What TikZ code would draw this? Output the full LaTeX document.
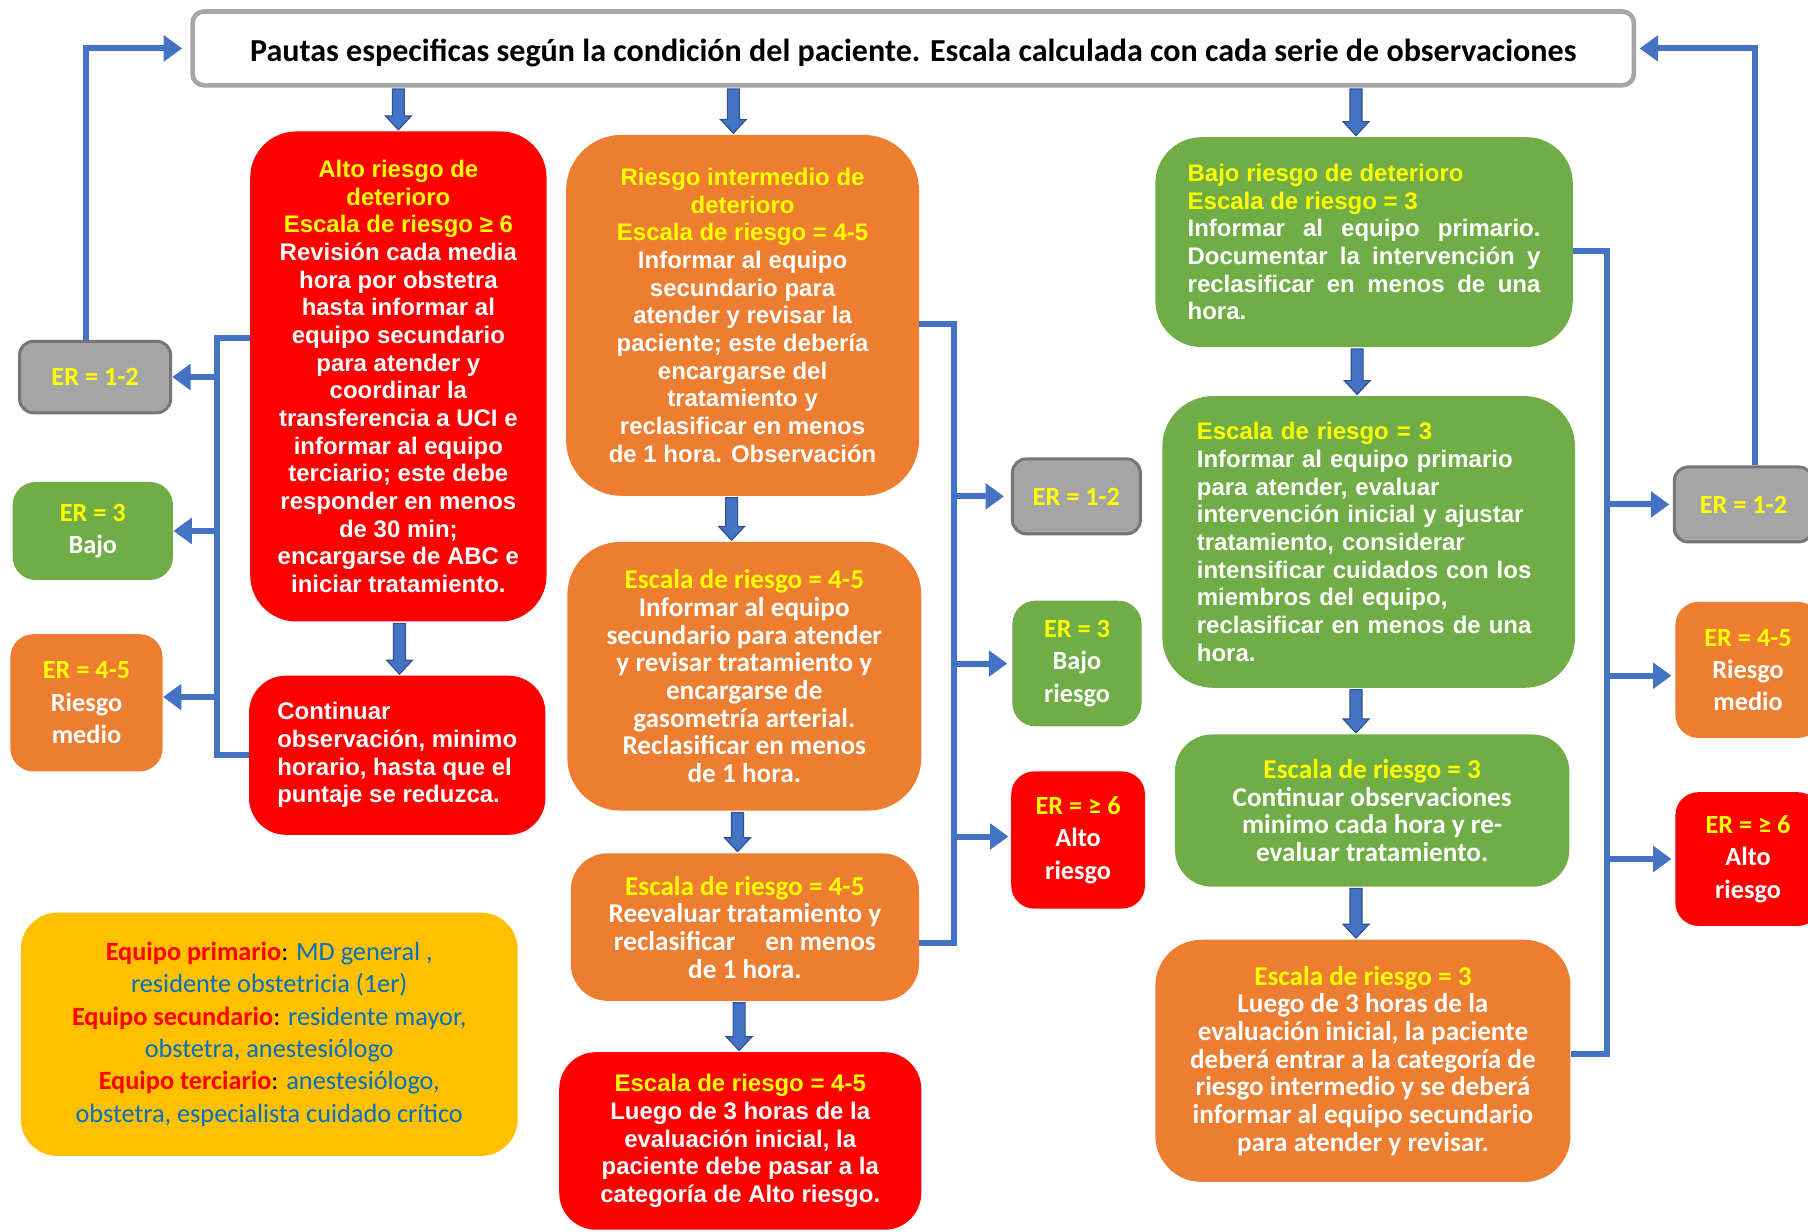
\documentclass[tikz,border=0pt]{standalone}
\usepackage{fontspec}
\setmainfont{Liberation Sans}
\newfontfamily\calib{Carlito}
\usetikzlibrary{arrows.meta,calc}
\definecolor{cred}{HTML}{FF0000}
\definecolor{corg}{HTML}{ED7D31}
\definecolor{cgrn}{HTML}{70AD47}
\definecolor{cgry}{HTML}{A5A5A5}
\definecolor{cgryb}{HTML}{767676}
\definecolor{ctitleb}{HTML}{A6A6A6}
\definecolor{cyel}{HTML}{FFFF00}
\definecolor{cblue}{HTML}{4472C4}
\definecolor{cbluedk}{HTML}{2F528F}
\definecolor{cgold}{HTML}{FFC000}
\definecolor{clblue}{HTML}{0070C0}
\newcommand\Y[1]{\textcolor{cyel}{#1}}
\newcommand\Rb[1]{\textcolor{cred}{\bfseries #1}}
\newcommand\Lb[1]{\textcolor{clblue}{#1}}
\newcommand\blockarrow[3][0pt]{%
  \path[blk] let \p1=(#2.south), \p2=([xshift=#1]#3.north) in
    (\x2-2.6pt,\y1-0.6pt) -- (\x2+2.6pt,\y1-0.6pt) -- (\x2+2.6pt,\y2+6.5pt) --
    (\x2+5.6pt,\y2+6.5pt) -- (\x2,\y2+0.5pt) -- (\x2-5.6pt,\y2+6.5pt) --
    (\x2-2.6pt,\y2+6.5pt) -- cycle;}
\begin{document}
\begin{tikzpicture}[x=0.5pt,y=-0.5pt,
  bx/.style={inner sep=0pt, align=center, text=white},
  fa/.style={font=\fontsize{10.4}{12}\selectfont\bfseries},
  fc/.style={font=\calib\fontsize{11.8}{12}\selectfont\bfseries},
  fs/.style={font=\calib\fontsize{11.4}{14}\selectfont\bfseries},
  graybox/.style={bx, fs, fill=cgry, draw=cgryb, line width=1.3pt, rounded corners=6pt},
  smallbox/.style={bx, fs, rounded corners=10pt},
  blk/.style={fill=cblue, draw=cbluedk, line width=0.5pt},
  conn/.style={draw=cblue, line width=2.6pt},
  arr/.style={conn, -{Triangle[length=8pt,width=11pt]}}
]
\useasboundingbox (0,0) rectangle (1568,1068);
\clip (0,0) rectangle (1568,1068);

% title
\node[draw=ctitleb, line width=2pt, fill=white, rounded corners=5pt,
  minimum width=625pt, minimum height=32pt, inner sep=0pt, text height=13pt, text depth=2pt,
  font=\calib\fontsize{13.9}{16}\selectfont\bfseries] (title) at (792,42)
  {Pautas especificas según la condición del paciente. Escala calculada con cada serie de observaciones};

% left column
\node[bx, fa, fill=cred, rounded corners=20pt, minimum width=128.5pt, minimum height=212.5pt] (a1) at (345.5,326.5)
 {\Y{Alto riesgo de}\\\Y{deterioro}\\\Y{Escala de riesgo ≥ 6}\\Revisión cada media\\hora por obstetra\\hasta informar al\\equipo secundario\\para atender y\\coordinar la\\transferencia a UCI e\\informar al equipo\\terciario; este debe\\responder en menos\\de 30 min;\\encargarse de ABC e\\iniciar tratamiento.};
\node[bx, fa, fill=cred, rounded corners=16pt, minimum width=128.5pt, minimum height=69pt, align=left] (a2) at (344.5,655)
 {Continuar\\observación, minimo\\horario, hasta que el\\puntaje se reduzca.};

\node[graybox, minimum width=65.5pt, minimum height=31pt] (er1L) at (82.5,327) {\Y{ER = 1-2}};
\node[smallbox, fill=cgrn, minimum width=69.5pt, minimum height=42.5pt] (er3L) at (80.5,460.5) {\Y{ER = 3}\\Bajo};
\node[smallbox, fill=corg, minimum width=66pt, minimum height=59.5pt] (er45L) at (75,609.5) {\Y{ER = 4-5}\\Riesgo\\medio};

% middle column
\node[bx, fa, fill=corg, rounded corners=24pt, minimum width=153pt, minimum height=156.5pt] (b1) at (644,273.5)
 {\Y{Riesgo intermedio de}\\\Y{deterioro}\\\Y{Escala de riesgo = 4-5}\\Informar al equipo\\secundario para\\atender y revisar la\\paciente; este debería\\encargarse del\\tratamiento y\\reclasificar en menos\\de 1 hora. Observación};
\node[bx, fc, fill=corg, rounded corners=23pt, minimum width=153.5pt, minimum height=116.5pt] (b2) at (645.5,586.5)
 {\Y{Escala de riesgo = 4-5}\\Informar al equipo\\secundario para atender\\y revisar tratamiento y\\encargarse de\\gasometría arterial.\\Reclasificar en menos\\de 1 hora.};
\node[bx, fc, fill=corg, rounded corners=16pt, minimum width=151pt, minimum height=64pt] (b3) at (646,804)
 {\Y{Escala de riesgo = 4-5}\\Reevaluar tratamiento y\\reclasificar\hspace{1.1em}en menos\\de 1 hora.};
\node[bx, fa, fill=cred, rounded corners=16pt, minimum width=157pt, minimum height=77pt] (b4) at (642,989.5)
 {\Y{Escala de riesgo = 4-5}\\Luego de 3 horas de la\\evaluación inicial, la\\paciente debe pasar a la\\categoría de Alto riesgo.};

\node[graybox, minimum width=55.5pt, minimum height=32.5pt] (er1M) at (933.5,430.5) {\Y{ER = 1-2}};
\node[smallbox, fill=cgrn, minimum width=56pt, minimum height=54.5pt] (er3M) at (934,575.5) {\Y{ER = 3}\\Bajo\\riesgo};
\node[smallbox, fill=cred, minimum width=58pt, minimum height=59.5pt] (er6M) at (935,728.5) {\Y{ER = ≥ 6}\\Alto\\riesgo};

% right column
\node[bx, fa, fill=cgrn, rounded corners=20pt, minimum width=181pt, minimum height=91pt, text width=153pt, align=justify] (c1) at (1183,210)
 {\Y{Bajo riesgo de deterioro}\\\Y{Escala de riesgo = 3}\\Informar al equipo primario.\linebreak Documentar la intervención y\linebreak reclasificar en menos de una\linebreak hora.};
\node[bx, fa, fill=cgrn, rounded corners=22pt, minimum width=179pt, minimum height=126.5pt, text width=149pt, align=left] (c2) at (1187,470)
 {\Y{Escala de riesgo = 3}\\Informar al equipo primario\\para atender, evaluar\\intervención inicial y ajustar\\tratamiento, considerar\\intensificar cuidados con los\\miembros del equipo,\\reclasificar en menos de una\\hora.};
\node[bx, fc, fill=cgrn, rounded corners=16pt, minimum width=171pt, minimum height=66pt] (c3) at (1190,703)
 {\Y{Escala de riesgo = 3}\\Continuar observaciones\\minimo cada hora y re-\\evaluar tratamiento.};
\node[bx, fc, fill=corg, rounded corners=20pt, minimum width=180pt, minimum height=105pt] (c4) at (1182,920)
 {\Y{Escala de riesgo = 3}\\Luego de 3 horas de la\\evaluación inicial, la paciente\\deberá entrar a la categoría de\\riesgo intermedio y se deberá\\informar al equipo secundario\\para atender y revisar.};

\node[graybox, minimum width=60pt, minimum height=32.5pt] (er1R) at (1512,437.5) {\Y{ER = 1-2}};
\node[smallbox, fill=corg, minimum width=63pt, minimum height=59pt] (er45R) at (1516,581) {\Y{ER = 4-5}\\Riesgo\\medio};
\node[smallbox, fill=cred, minimum width=63pt, minimum height=58pt] (er6R) at (1516,745) {\Y{ER = ≥ 6}\\Alto\\riesgo};

% legend
\node[inner sep=0pt, align=center, fill=cgold, rounded corners=16pt, minimum width=215.5pt, minimum height=105.5pt,
  font=\calib\fontsize{11.4}{14}\selectfont] (legend) at (233.5,897)
 {\Rb{Equipo primario}: \Lb{MD general ,}\\\Lb{residente obstetricia (1er)}\\\Rb{Equipo secundario}: \Lb{residente mayor,}\\\Lb{obstetra, anestesiólogo}\\\Rb{Equipo terciario}: \Lb{anestesiólogo,}\\\Lb{obstetra, especialista cuidado crítico}};

% block arrows
\blockarrow{title}{a1}
\blockarrow[-4pt]{title}{b1}
\blockarrow[-3.5pt]{title}{c1}
\blockarrow[1pt]{a1}{a2}
\blockarrow[-5.5pt]{b1}{b2}
\blockarrow[-3.2pt]{b2}{b3}
\blockarrow[-0.5pt]{b3}{b4}
\blockarrow[-5pt]{c1}{c2}
\blockarrow[-7pt]{c2}{c3}
\blockarrow[-3pt]{c3}{c4}

% left bus
\coordinate (busLt) at (188,293);
\coordinate (busLb) at (188,655);
\draw[conn] (a1.west |- busLt) -- (busLt) -- (busLb) -- (a2.west |- busLb);
\draw[arr] (busLt |- er1L.east) -- (er1L.east);
\draw[arr] (busLt |- er3L.east) -- (er3L.east);
\draw[arr] ([yshift=2.5pt]busLt |- er45L.east) -- ([yshift=2.5pt]er45L.east);
\draw[arr] ([xshift=-3.75pt]er1L.north) |- ([xshift=-3.5pt]title.west);

% middle bus
\coordinate (busMt) at (827,281);
\coordinate (busMb) at (827,818);
\draw[conn] (b1.east |- busMt) -- (busMt) -- (busMb) -- (b3.east |- busMb);
\draw[arr, shorten >=3pt] (busMt |- er1M.west) -- (er1M.west);
\draw[arr, shorten >=2pt] (busMt |- er3M.west) -- (er3M.west);
\draw[arr, shorten >=1pt] ([yshift=1.5pt]busMt |- er6M.west) -- ([yshift=1.5pt]er6M.west);

% right bus
\coordinate (busRt) at (1394,218);
\coordinate (busRb) at (1394,914);
\draw[conn] (c1.east |- busRt) -- (busRt) -- (busRb) -- (c4.east |- busRb);
\draw[arr, shorten >=1.5pt] (busRt |- er1R.west) -- (er1R.west);
\draw[arr, shorten >=1.5pt] ([yshift=-2.5pt]busRt |- er45R.west) -- ([yshift=-2.5pt]er45R.west);
\draw[arr, shorten >=1.5pt] (busRt |- er6R.west) -- (er6R.west);
\draw[arr] ([xshift=5pt]er1R.north) |- ([xshift=1.5pt]title.east);
\end{tikzpicture}
\end{document}
